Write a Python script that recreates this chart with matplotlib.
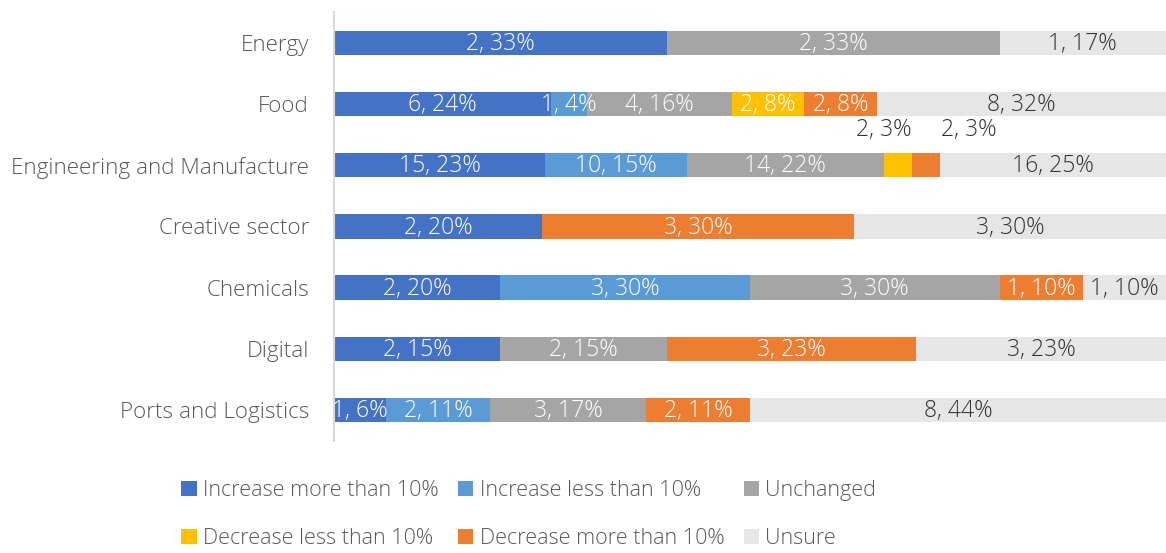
import matplotlib.pyplot as plt
import numpy as np

plt.rcParams['font.family'] = ['Open Sans', 'DejaVu Sans']
plt.rcParams['font.weight'] = 'light'

sectors = ['Energy', 'Food', 'Engineering and Manufacture', 'Creative sector',
           'Chemicals', 'Digital', 'Ports and Logistics']
answers = ['Increase more than 10%', 'Increase less than 10%', 'Unchanged',
           'Decrease less than 10%', 'Decrease more than 10%', 'Unsure']
colors = ['#4472C4', '#5B9BD5', '#A5A5A5', '#FFC000', '#ED7D31', '#E7E6E6']

# respondent counts per sector, one list per answer
inc_more = [2, 6, 15, 2, 2, 2, 1]
inc_less = [0, 1, 10, 0, 3, 0, 2]
unchanged = [2, 4, 14, 0, 3, 2, 3]
dec_less = [0, 2, 2, 0, 0, 0, 0]
dec_more = [0, 2, 2, 3, 1, 3, 2]
unsure = [1, 8, 16, 3, 1, 3, 8]

# share of all responses in the sector (as printed)
pct_inc_more = [33, 24, 23, 20, 20, 15, 6]
pct_inc_less = [0, 4, 15, 0, 30, 0, 11]
pct_unchanged = [33, 16, 22, 0, 30, 15, 17]
pct_dec_less = [0, 8, 3, 0, 0, 0, 0]
pct_dec_more = [0, 8, 3, 30, 10, 23, 11]
pct_unsure = [17, 32, 25, 30, 10, 23, 44]

counts = np.array([inc_more, inc_less, unchanged, dec_less, dec_more, unsure], float)
pcts = np.array([pct_inc_more, pct_inc_less, pct_unchanged, pct_dec_less,
                 pct_dec_more, pct_unsure])
shares = counts / counts.sum(axis=0)

fig = plt.figure(figsize=(11.66, 5.53), dpi=100)
ax = fig.add_axes([0.2864, 0.203, 0.7136, 0.775])

y = np.arange(len(sectors))
left = np.zeros(len(sectors))
handles = []
for k in range(len(answers)):
    h = ax.barh(y, shares[k], left=left, height=0.4, color=colors[k], label=answers[k])
    handles.append(h)
    for i in range(len(sectors)):
        if counts[k, i] == 0:
            continue
        txt = f'{int(counts[k, i])}, {pcts[k, i]}%'
        cx = left[i] + shares[k, i] / 2
        tc = '#333333' if k == 5 else 'white'
        if sectors[i] == 'Engineering and Manufacture' and k in (3, 4):
            # segments too narrow, label above the bar
            dx = -0.017 if k == 3 else 0.051
            ax.text(cx + dx, i - 0.57, txt, ha='center', va='center',
                    fontsize=16.5, color='#333333')
            continue
        ax.text(cx, i + 0.02, txt, ha='center', va='center', fontsize=16.5, color=tc)
    left += shares[k]

ax.set_xlim(0, 1)
ax.set_ylim(len(sectors) - 0.5, -0.5)
ax.set_yticks(y)
ax.set_yticklabels(sectors, fontsize=16.2, color='#595959')
ax.tick_params(axis='y', length=0, pad=18)
ax.set_xticks([])
for s in ['top', 'right', 'bottom']:
    ax.spines[s].set_visible(False)
ax.spines['left'].set_color('#D9D9D9')
ax.spines['left'].set_linewidth(1.5)

# legend filled row by row
order = [0, 3, 1, 4, 2, 5]
fig.legend([handles[j] for j in order], [answers[j] for j in order],
           loc='lower left', bbox_to_anchor=(0.139, -0.028), ncol=3,
           frameon=False, fontsize=15.5, labelcolor='#595959',
           handlelength=0.7, handleheight=0.7, handletextpad=0.3,
           columnspacing=0.9, labelspacing=1.25)

fig.savefig('out.png', dpi=100)
